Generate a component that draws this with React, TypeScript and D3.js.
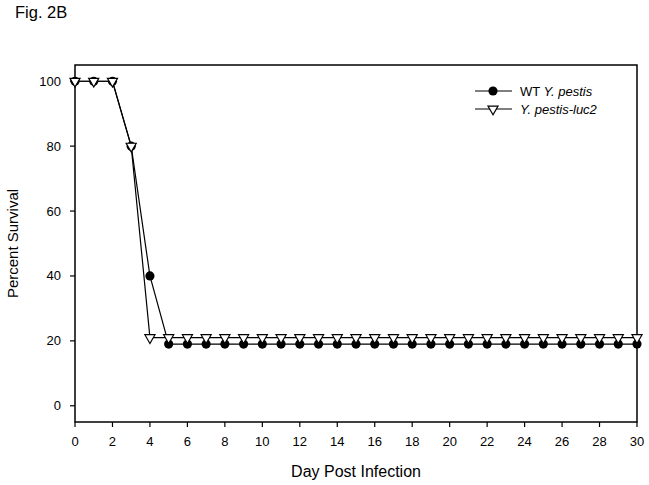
import React from "react";
import * as d3 from "d3";

const days = [0, 1, 2, 3, 4, 5, 6, 7, 8, 9, 10, 11, 12, 13, 14, 15, 16, 17, 18, 19, 20, 21, 22, 23, 24, 25, 26, 27, 28, 29, 30];
const wtSurvival = [100, 100, 100, 80, 40, 19, 19, 19, 19, 19, 19, 19, 19, 19, 19, 19, 19, 19, 19, 19, 19, 19, 19, 19, 19, 19, 19, 19, 19, 19, 19];
const lucSurvival = [100, 100, 100, 80, 21, 21, 21, 21, 21, 21, 21, 21, 21, 21, 21, 21, 21, 21, 21, 21, 21, 21, 21, 21, 21, 21, 21, 21, 21, 21, 21];
const xTicks = [0, 2, 4, 6, 8, 10, 12, 14, 16, 18, 20, 22, 24, 26, 28, 30];
const yTicks = [0, 20, 40, 60, 80, 100];

const W = 649, H = 485;
const m = { l: 75, r: 637, t: 65, b: 422 };
const font = "'Liberation Sans', Arial, sans-serif";

export default function App() {
  const x = d3.scaleLinear().domain([0, 30]).range([m.l, m.r]);
  const y = d3.scaleLinear().domain([-5, 105]).range([m.b, m.t]);
  const line = d3.line<number>().x((_, i) => x(days[i])).y((d) => y(d));
  const circle = d3.symbol(d3.symbolCircle, 66)()!;
  const tri = d3.symbol(d3.symbolTriangle, 44)()!;

  return (
    <svg width={W} height={H} style={{ position: "absolute", left: 0, top: 0, background: "#fff" }} fontFamily={font}>
      <text x={15} y={18} fontSize={16.5}>Fig. 2B</text>
      <rect x={m.l} y={m.t} width={m.r - m.l} height={m.b - m.t} fill="none" stroke="#000" strokeWidth={1.5} />
      {xTicks.map((t) => (
        <g key={"x" + t}>
          <line x1={x(t)} x2={x(t)} y1={m.b} y2={m.b + 5} stroke="#000" strokeWidth={1.2} />
          <text x={x(t)} y={m.b + 24} fontSize={13} textAnchor="middle">{t}</text>
        </g>
      ))}
      {yTicks.map((t) => (
        <g key={"y" + t}>
          <line x1={m.l - 5} x2={m.l} y1={y(t)} y2={y(t)} stroke="#000" strokeWidth={1.2} />
          <text x={61} y={y(t) + 4.5} fontSize={13} textAnchor="end">{t}</text>
        </g>
      ))}
      <text x={(m.l + m.r) / 2} y={477} fontSize={16} textAnchor="middle">Day Post Infection</text>
      <text transform={`translate(18,${(m.t + m.b) / 2}) rotate(-90)`} fontSize={15} textAnchor="middle">Percent Survival</text>

      <path d={line(wtSurvival)!} fill="none" stroke="#000" strokeWidth={1.2} />
      <path d={line(lucSurvival)!} fill="none" stroke="#000" strokeWidth={1.2} />
      {wtSurvival.map((v, i) => (
        <path key={"c" + i} d={circle} transform={`translate(${x(days[i])},${y(v)})`} fill="#000" />
      ))}
      {lucSurvival.map((v, i) => (
        <path key={"t" + i} d={tri} transform={`translate(${x(days[i])},${y(v)}) rotate(180)`} fill="#fff" stroke="#000" strokeWidth={1.2} />
      ))}

      <g>
        <line x1={475} x2={512} y1={91} y2={91} stroke="#000" strokeWidth={1.2} />
        <path d={circle} transform="translate(493,91)" fill="#000" />
        <text x={520} y={96} fontSize={13}>WT <tspan fontStyle="italic">Y. pestis</tspan></text>
        <line x1={475} x2={512} y1={109} y2={109} stroke="#000" strokeWidth={1.2} />
        <path d={tri} transform="translate(493,109) rotate(180)" fill="#fff" stroke="#000" strokeWidth={1.2} />
        <text x={520} y={114} fontSize={13} fontStyle="italic">Y. pestis-luc2</text>
      </g>
    </svg>
  );
}
